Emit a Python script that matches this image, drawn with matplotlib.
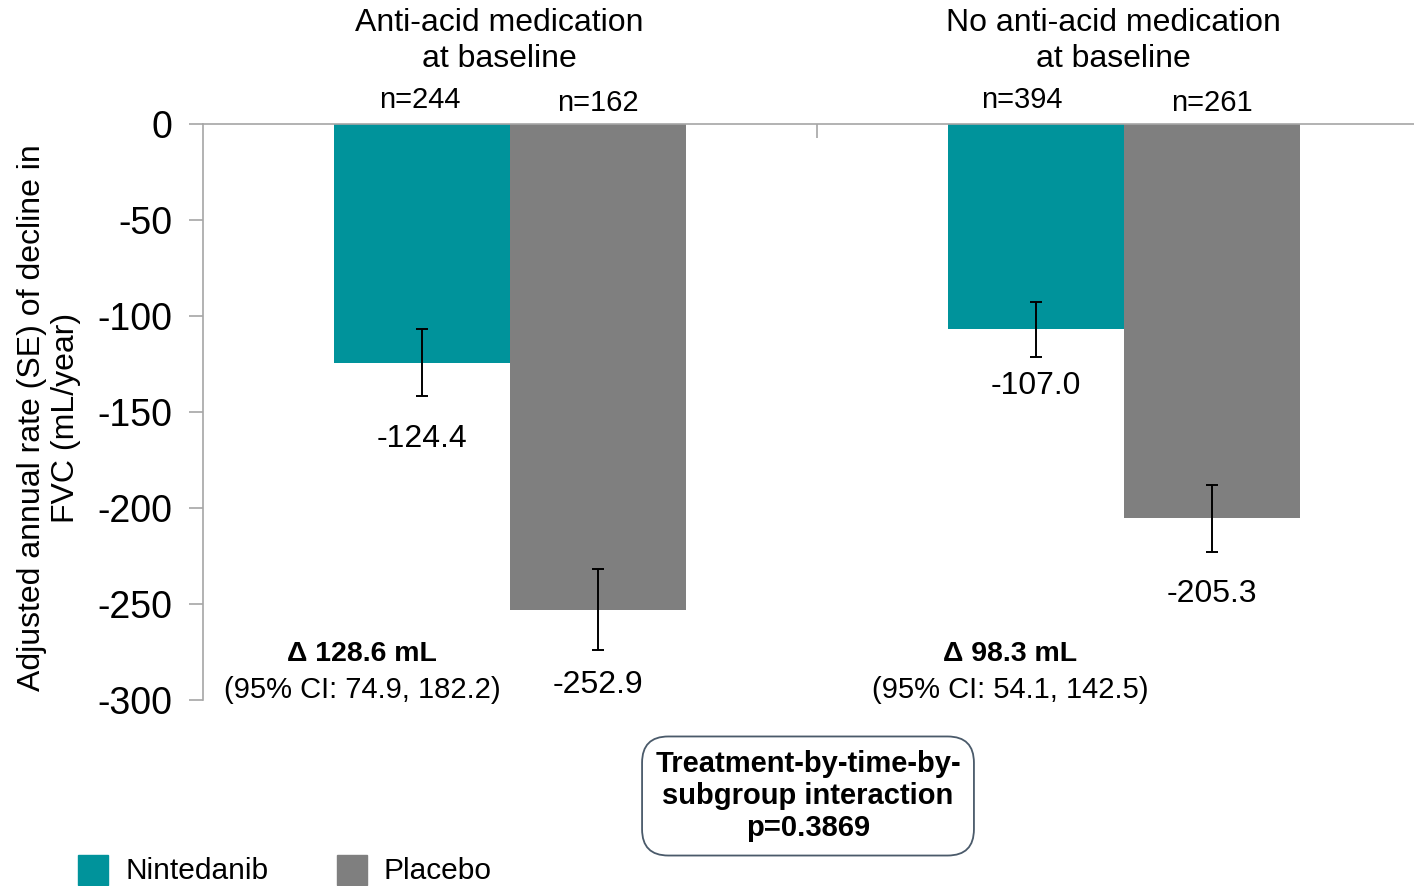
import numpy as np
import matplotlib
matplotlib.use('Agg')
import matplotlib.pyplot as plt
from matplotlib.patches import Rectangle

plt.rcParams['font.family'] = ['Liberation Sans', 'DejaVu Sans']

# 两个亚组，每组两个治疗臂
groups = ['Anti-acid medication\nat baseline', 'No anti-acid medication\nat baseline']
arms = ['Nintedanib', 'Placebo']
colors = ['#00939b', '#7f7f7f']

rate = [[-124.4, -252.9], [-107.0, -205.3]]   # 调整后年下降率 (mL/year)
se = [[17.5, 21.1], [14.4, 17.4]]              # 标准误
n_labels = [['n=244', 'n=162'], ['n=394', 'n=261']]
delta_labels = ['\u0394 128.6 mL', '\u0394 98.3 mL']
ci_labels = ['(95% CI: 74.9, 182.2)', '(95% CI: 54.1, 142.5)']
label_gap = [[20, 14], [10, 20]]   # 数值标签离误差线的距离(pt)
n_shift = [[-2, 0], [-14, 0]]      # n= 标签的水平偏移(pt)
delta_x = [-0.241, -0.186]         # Δ 文字相对组中心的位置
p_text = 'Treatment-by-time-by-\nsubgroup interaction\np=0.3869'

yticks = [0, -50, -100, -150, -200, -250, -300]

W, H = 1414, 886
fig = plt.figure(figsize=(W / 100, H / 100), dpi=100)
ax = fig.add_axes([203 / W, (H - 700) / H, (W - 203) / W, 576 / H])

bw = 0.2866
centers = np.array([0.5, 1.5])
for g in range(2):
    for a in range(2):
        x = centers[g] + (a - 0.5) * bw
        ax.bar(x, rate[g][a], width=bw, color=colors[a], zorder=2)
        ax.errorbar(x, rate[g][a], yerr=se[g][a], fmt='none', ecolor='black',
                    elinewidth=1.4, capsize=4.2, capthick=1.4, zorder=3)
        ax.annotate('%.1f' % rate[g][a], (x, rate[g][a] - se[g][a]),
                    xytext=(0, -label_gap[g][a]), textcoords='offset points',
                    ha='center', va='top', fontsize=23)
        ax.annotate(n_labels[g][a], (x, 0),
                    xytext=(n_shift[g][a] * 0.72, 7 if a == 0 else 5),
                    textcoords='offset points', ha='center', va='bottom',
                    fontsize=21, annotation_clip=False)
    ax.annotate(groups[g], (centers[g] - 0.017, 0), xytext=(0, 36),
                textcoords='offset points', ha='center', va='bottom',
                fontsize=23, linespacing=1.25, annotation_clip=False)
    ax.text(centers[g] + delta_x[g], -276, delta_labels[g], ha='center', va='center',
            fontsize=20.5, fontweight='bold')
    ax.text(centers[g] + delta_x[g], -295, ci_labels[g], ha='center', va='center',
            fontsize=21)

ax.set_xlim(0, (W - 203) / 614)
ax.set_ylim(-300, 0)
ax.set_yticks(yticks)
ax.set_yticklabels([str(t) for t in yticks], fontsize=27)
ax.set_xticks([1.0])
ax.set_xticklabels([''])
ax.xaxis.set_ticks_position('top')
ax.tick_params(axis='x', direction='in', length=10, width=1.2, color='#a6a6a6')
ax.tick_params(axis='y', direction='out', length=10, width=1.2, color='#a6a6a6', pad=12)

for s in ['right', 'bottom']:
    ax.spines[s].set_visible(False)
for s in ['top', 'left']:
    ax.spines[s].set_color('#a6a6a6')
    ax.spines[s].set_linewidth(1.2)

ax.set_ylabel('Adjusted annual rate (SE) of decline in\nFVC (mL/year)', fontsize=23,
              linespacing=1.15, va='center')
ax.yaxis.set_label_coords((49 - 203) / 1211, 0.49)

# 交互作用 p 值的圆角框
fig.text(808 / W, 1 - 796 / H, p_text, ha='center', va='center', fontsize=21,
         fontweight='bold', linespacing=1.2,
         bbox=dict(boxstyle='round,pad=0.45,rounding_size=0.9', fc='white',
                   ec='#4a5a6a', lw=1.3))

# 图例
for i, (lab, xs) in enumerate(zip(arms, [78, 337])):
    fig.patches.append(Rectangle((xs / W, 1 - 885 / H), 30 / W, 30 / H,
                                 transform=fig.transFigure, color=colors[i]))
    fig.text((xs + 47) / W, 1 - 871 / H, lab, ha='left', va='center', fontsize=21.5)

fig.savefig('out.png', dpi=100)
